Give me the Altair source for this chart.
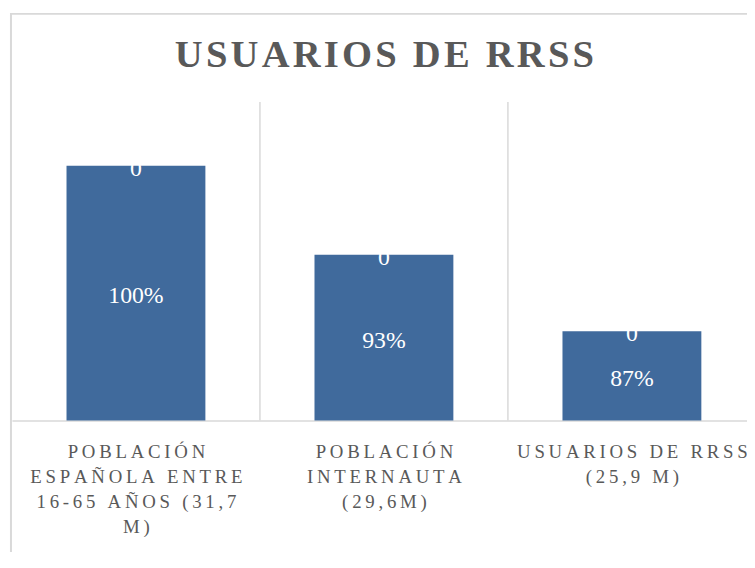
import altair as alt
import pandas as pd

# ---- data ----
categories = [
    "POBLACIÓN|ESPAÑOLA ENTRE|16-65 AÑOS (31,7|M)",
    "POBLACIÓN|INTERNAUTA|(29,6M)",
    "USUARIOS DE RRSS|(25,9 M)",
]
percent_values = [100, 93, 87]
top_labels = [0, 0, 0]
title_text = "USUARIOS DE RRSS"

THIN = "\u2009"
HAIR = "\u200A"


def spaced(s, sp):
    return "|".join(sp.join(line) for line in s.split("|"))


n = len(categories)
df = pd.DataFrame({
    "idx": list(range(n)),
    "cat": [spaced(c, THIN) for c in categories],
    "pct": percent_values,
    "zero": top_labels,
})
bounds = pd.DataFrame({"idx": [i + 0.5 for i in range(n - 1)]})

W, H = 743, 322
FULL = 752                      # full category band width of the original chart
STEP = FULL / n
BAR = "#406A9C"
GRAY = "#595959"
LINE = "#D9D9D9"
FONT = "Liberation Serif"
YMIN, YMAX = 80, 105

xscale = alt.Scale(domain=[-0.5, -0.5 + W / STEP], nice=False, zero=False, padding=0)
yscale = alt.Scale(domain=[YMIN, YMAX], zero=False, nice=False, padding=0)

label_array = "[" + ",".join("'" + c + "'" for c in df["cat"]) + "]"

axis = alt.Axis(
    values=list(range(n)),
    labelExpr=f"split({label_array}[datum.value], '|')", labelAngle=0, labelFont=FONT,
    labelFontSize=19, labelColor=GRAY, labelLineHeight=25.5,
    labelPadding=22, labelBaseline="top", labelLimit=0, labelOverlap=False,
    labelFlush=False, labelBound=False,
    ticks=False, grid=False, domainColor=LINE, domainWidth=1.5,
)
x = alt.X("idx:Q", title=None, scale=xscale, axis=axis)

base = alt.Chart(df)

grid = alt.Chart(bounds).mark_rule(color=LINE, strokeWidth=1.5).encode(
    x=x,
    y=alt.value(0),
    y2=alt.value(H),
)

bars = base.mark_bar(color=BAR, width=STEP * 0.56).encode(
    x=x,
    y=alt.Y("pct:Q", scale=yscale, axis=None),
    y2=alt.datum(YMIN),
)

pct_text = base.transform_calculate(
    mid=f"(datum.pct + {YMIN}) / 2", lab="datum.pct + '%'"
).mark_text(color="white", font=FONT, fontSize=24, baseline="middle", dy=3).encode(
    x=x,
    y=alt.Y("mid:Q", scale=yscale, axis=None),
    text="lab:N",
)

zero_text = base.mark_text(color="white", font=FONT, fontSize=24, baseline="alphabetic", dy=10).encode(
    x=x,
    y=alt.Y("pct:Q", scale=yscale, axis=None),
    text="zero:Q",
)

border = alt.Chart(pd.DataFrame({"k": [0]})).mark_rect(
    fillOpacity=0, stroke=LINE, strokeWidth=2
).encode(
    x=alt.value(-1), x2=alt.value(W + 40), y=alt.value(-89), y2=alt.value(H + 200)
)

chart = alt.layer(border, grid, bars, pct_text, zero_text).properties(
    width=W,
    height=H,
    title=alt.Title(
        spaced(title_text, HAIR), font=FONT, fontSize=39, fontWeight="bold",
        color=GRAY, anchor="middle", frame="group", baseline="alphabetic",
        offset=0, dy=94, dx=5,
    ),
    padding={"left": 4, "top": 92, "right": 0, "bottom": 130},
    autosize=alt.AutoSizeParams(type="none"),
).configure_view(strokeWidth=0)

chart.save("out.html", embed_options={"renderer": "svg", "actions": False})
